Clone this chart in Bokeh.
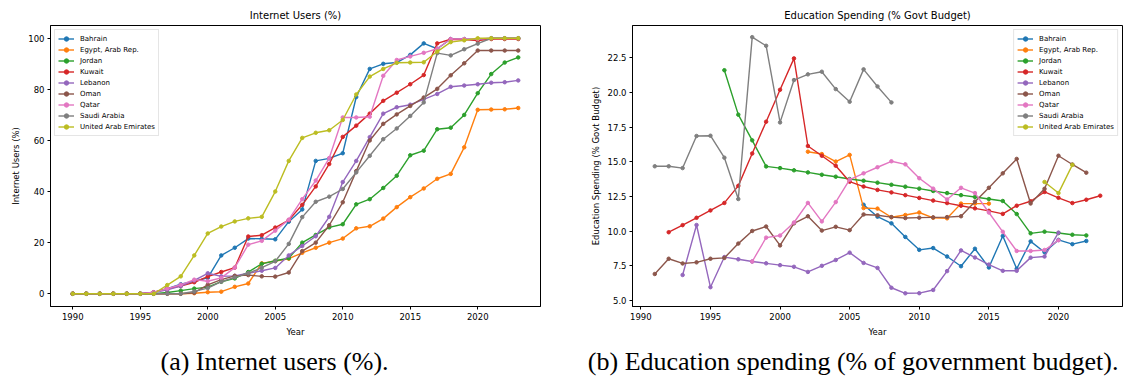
from bokeh.plotting import figure
from bokeh.layouts import row
from bokeh.models import Title, FixedTicker, PrintfTickFormatter, Range1d
from bokeh.embed import file_html
from bokeh.resources import INLINE

countries = ["Bahrain", "Egypt, Arab Rep.", "Jordan", "Kuwait", "Lebanon",
             "Oman", "Qatar", "Saudi Arabia", "United Arab Emirates"]
colors = ["#1f77b4", "#ff7f0e", "#2ca02c", "#d62728", "#9467bd",
          "#8c564b", "#e377c2", "#7f7f7f", "#bcbd22"]

# ---- Internet users (%), 1990..2023 ----
internet_start = 1990
internet_bahrain = [0, 0, 0, 0, 0, 0, 0.5, 2.0, 3.7, 4.9, 6.2, 15.0, 18.0, 21.6, 21.5, 21.3, 28.2, 33.0,
                    52.0, 53.0, 55.0, 77.0, 88.0, 90.0, 90.5, 93.5, 98.0, 95.9, 99.7, 99.7, 99.5, 100, 100, 100]
internet_egypt = [0, 0, 0, 0, 0, 0, 0, 0, 0, 0.2, 0.6, 0.8, 2.7, 4.0, 11.9, 12.8, 13.7, 16.0, 18.0, 20.0,
                  21.6, 25.6, 26.4, 29.4, 33.9, 37.8, 41.2, 45.0, 46.9, 57.3, 72.0, 72.1, 72.2, 72.7]
internet_jordan = [0, 0, 0, 0, 0, 0, 0, 0.5, 1.2, 2.0, 2.6, 4.7, 6.0, 8.5, 11.7, 12.9, 13.9, 20.0, 23.0,
                   26.0, 27.2, 35.0, 37.0, 41.4, 46.2, 54.2, 56.0, 64.4, 65.0, 70.0, 78.5, 86.0, 90.5, 92.5]
internet_kuwait = [0, 0, 0, 0, 0, 0, 0.6, 2.0, 3.0, 4.5, 6.7, 8.5, 10.2, 22.4, 22.9, 25.9, 28.8, 34.8,
                   42.0, 50.8, 61.4, 65.8, 70.5, 75.5, 78.7, 82.0, 85.6, 98.0, 99.6, 99.5, 99.1, 99.7, 99.7, 99.7]
internet_lebanon = [0, 0, 0, 0, 0, 0, 0.5, 1.5, 3.0, 5.2, 8.0, 6.8, 7.0, 8.0, 9.0, 10.1, 15.0, 18.7, 22.5,
                    30.1, 43.7, 52.0, 61.3, 70.5, 73.0, 74.0, 76.1, 78.2, 81.0, 81.5, 82.0, 82.6, 82.8, 83.5]
internet_oman = [0, 0, 0, 0, 0, 0, 0, 0, 0, 0.4, 3.5, 5.5, 7.0, 7.3, 6.8, 6.7, 8.3, 16.7, 20.0, 26.8,
                 35.8, 48.0, 60.0, 66.5, 70.2, 73.5, 76.8, 80.2, 85.5, 90.2, 95.2, 95.2, 95.2, 95.2]
internet_qatar = [0, 0, 0, 0, 0, 0, 0.5, 2.0, 3.5, 5.5, 4.9, 6.2, 10.2, 19.2, 20.7, 24.7, 29.0, 37.0, 44.3,
                  53.1, 69.0, 69.0, 69.3, 85.3, 91.5, 92.9, 94.3, 95.9, 99.7, 99.7, 99.7, 100, 100, 100]
internet_saudi = [0, 0, 0, 0, 0, 0, 0, 0, 0, 0.9, 2.2, 4.7, 6.4, 8.0, 10.2, 12.7, 19.5, 30.0, 36.0, 38.0,
                  41.0, 47.5, 54.0, 60.5, 64.7, 69.6, 74.9, 94.2, 93.3, 95.7, 97.9, 100, 100, 100]
internet_uae = [0, 0, 0, 0, 0, 0, 0, 3.4, 6.8, 15.0, 23.6, 26.3, 28.3, 29.5, 30.1, 40.0, 52.0, 61.0, 63.0,
                64.0, 68.0, 78.0, 85.0, 88.0, 90.4, 90.5, 90.6, 94.8, 98.5, 99.2, 100, 100, 100, 100]

# ---- Education spending (% govt budget): (first year, values) ----
edu_bahrain_start, edu_bahrain = 2006, [11.91, 11.05, 10.57, 9.59, 8.66, 8.79, 8.18, 7.48, 8.74, 7.39,
                                        9.66, 7.3, 9.27, 8.49, 9.38, 9.07, 9.3]
edu_egypt_start, edu_egypt = 2002, [15.73, 15.56, 15.02, 15.5, 11.67, 11.63, 11.01, 11.17, 11.35, 10.97,
                                    10.93, 11.99, 11.99, 11.99]
edu_jordan_start, edu_jordan = 1996, [21.6, 18.4, 16.55, 14.67, 14.55, 14.39, 14.24, 14.07, 13.93, 13.76,
                                      13.64, 13.5, 13.35, 13.21, 13.07, 12.9, 12.75, 12.6, 12.47, 12.32,
                                      12.18, 11.24, 9.85, 9.97, 9.87, 9.75, 9.7]
edu_kuwait_start, edu_kuwait = 1992, [9.93, 10.44, 10.97, 11.5, 12.04, 13.27, 15.6, 17.89, 20.19, 22.45,
                                      16.14, 15.44, 14.72, 13.57, 13.22, 12.98, 12.8, 12.6, 12.4, 12.21,
                                      12.03, 11.84, 11.65, 11.47, 11.25, 11.84, 12.16, 12.83, 12.41, 12.03,
                                      12.27, 12.56]
edu_lebanon_start, edu_lebanon = 1993, [6.85, 10.45, 5.97, 8.14, 7.98, 7.82, 7.69, 7.56, 7.44, 7.07,
                                        7.51, 7.93, 8.46, 7.72, 7.36, 5.93, 5.53, 5.54, 5.77, 7.13,
                                        8.62, 8.11, 7.6, 7.15, 7.15, 8.1, 8.18, 9.9]
edu_oman_start, edu_oman = 1991, [6.92, 8.02, 7.68, 7.76, 8.02, 8.08, 9.11, 10.02, 10.34, 8.98,
                                  10.57, 11.08, 10.05, 10.32, 10.08, 11.21, 11.15, 11.02, 10.95, 10.98,
                                  11.0, 11.02, 11.08, 12.13, 13.13, 14.17, 15.21, 12.0, 13.06, 15.44,
                                  14.81, 14.22]
edu_qatar_start, edu_qatar = 1998, [7.82, 9.54, 9.69, 10.63, 12.04, 10.71, 12.1, 13.72, 14.17, 14.61,
                                    15.04, 14.82, 13.82, 13.07, 12.29, 13.13, 12.75, 11.35, 9.96, 8.58,
                                    8.58, 8.65, 9.35]
edu_saudi_start, edu_saudi = 1991, [14.68, 14.68, 14.55, 16.86, 16.88, 15.3, 12.32, 23.98, 23.36, 17.84,
                                    20.89, 21.3, 21.49, 20.24, 19.33, 21.66, 20.43, 19.28]
edu_uae_start, edu_uae = 2019, [13.55, 12.75, 14.78]

year_ticks = [1990, 1995, 2000, 2005, 2010, 2015, 2020]
internet_ticks = [0, 20, 40, 60, 80, 100]
edu_ticks = [5.0, 7.5, 10.0, 12.5, 15.0, 17.5, 20.0, 22.5]

internet_series = [internet_bahrain, internet_egypt, internet_jordan, internet_kuwait, internet_lebanon,
                   internet_oman, internet_qatar, internet_saudi, internet_uae]
edu_series = [(edu_bahrain_start, edu_bahrain), (edu_egypt_start, edu_egypt), (edu_jordan_start, edu_jordan),
              (edu_kuwait_start, edu_kuwait), (edu_lebanon_start, edu_lebanon), (edu_oman_start, edu_oman),
              (edu_qatar_start, edu_qatar), (edu_saudi_start, edu_saudi), (edu_uae_start, edu_uae)]

FONT = "DejaVu Sans"


def make_fig(title, ylabel, xr, yr, yticks, border_left, frame_w, border_right, caption, cap_align, cap_offset):
    p = figure(frame_width=frame_w, frame_height=281, x_range=Range1d(*xr), y_range=Range1d(*yr),
               output_backend="svg", toolbar_location=None,
               min_border_left=border_left, min_border_right=border_right,
               min_border_top=25, min_border_bottom=77)
    p.title.text = title
    p.title.align = "center"
    p.title.text_font = FONT
    p.title.text_font_size = "10px"
    p.title.text_font_style = "normal"
    p.title.text_color = "black"
    p.title.standoff = 9
    p.xgrid.visible = False
    p.ygrid.visible = False
    p.outline_line_color = "black"
    p.outline_line_width = 1
    p.background_fill_color = "white"
    p.border_fill_color = "white"
    for ax in (p.xaxis[0], p.yaxis[0]):
        ax.major_tick_in = 0
        ax.major_tick_out = 3
        ax.minor_tick_in = 0
        ax.minor_tick_out = 0
        ax.major_label_text_font = FONT
        ax.major_label_text_font_size = "8.5px"
        ax.major_label_text_color = "black"
        ax.axis_label_text_font = FONT
        ax.axis_label_text_font_size = "8.5px"
        ax.axis_label_text_font_style = "normal"
        ax.axis_label_text_color = "black"
        ax.axis_line_color = "black"
        ax.major_tick_line_color = "black"
        ax.major_label_standoff = 3
        ax.axis_label_standoff = 4
    p.xaxis.ticker = FixedTicker(ticks=year_ticks)
    p.yaxis.ticker = FixedTicker(ticks=yticks)
    p.xaxis.axis_label = "Year"
    p.yaxis.axis_label = ylabel
    cap = Title(text=caption, align=cap_align, offset=cap_offset, text_font="Liberation Serif",
                text_font_size="26px", text_font_style="normal", text_color="black", standoff=11)
    p.add_layout(cap, "below")
    return p


p1 = make_fig("Internet Users (%)", "Internet Users (%)", (1988.35, 2024.65), (-5, 105), internet_ticks,
              50, 490, 24, "(a) Internet users (%).", "left", 110)
for name, col, vals in zip(countries, colors, internet_series):
    yrs = [internet_start + i for i in range(len(vals))]
    p1.line(yrs, vals, line_color=col, line_width=1.4, legend_label=name)
    p1.scatter(yrs, vals, size=3.5, fill_color=col, line_color=col, legend_label=name)

p2 = make_fig("Education Spending (% Govt Budget)", "Education Spending (% Govt Budget)",
              (1989.4, 2024.6), (4.58, 24.82), edu_ticks, 68, 490, 6,
              "(b) Education spending (% of government budget).", "right", 4)
p2.yaxis.formatter = PrintfTickFormatter(format="%.1f")
for name, col, (start, vals) in zip(countries, colors, edu_series):
    yrs = [start + i for i in range(len(vals))]
    p2.line(yrs, vals, line_color=col, line_width=1.4, legend_label=name)
    p2.scatter(yrs, vals, size=3.5, fill_color=col, line_color=col, legend_label=name)

for p, loc in ((p1, "top_left"), (p2, "top_right")):
    lg = p.legend[0]
    lg.location = loc
    lg.label_text_font = FONT
    lg.label_text_font_size = "7px"
    lg.label_text_color = "black"
    lg.glyph_width = 16
    lg.glyph_height = 11
    lg.label_height = 11
    lg.label_standoff = 6
    lg.spacing = 0
    lg.padding = 3
    lg.margin = 4
    lg.border_line_color = "#cccccc"
    lg.border_line_width = 1
    lg.background_fill_alpha = 0.8

layout = row(p1, p2, spacing=0)
open("out.html", "w").write(file_html(layout, INLINE))
